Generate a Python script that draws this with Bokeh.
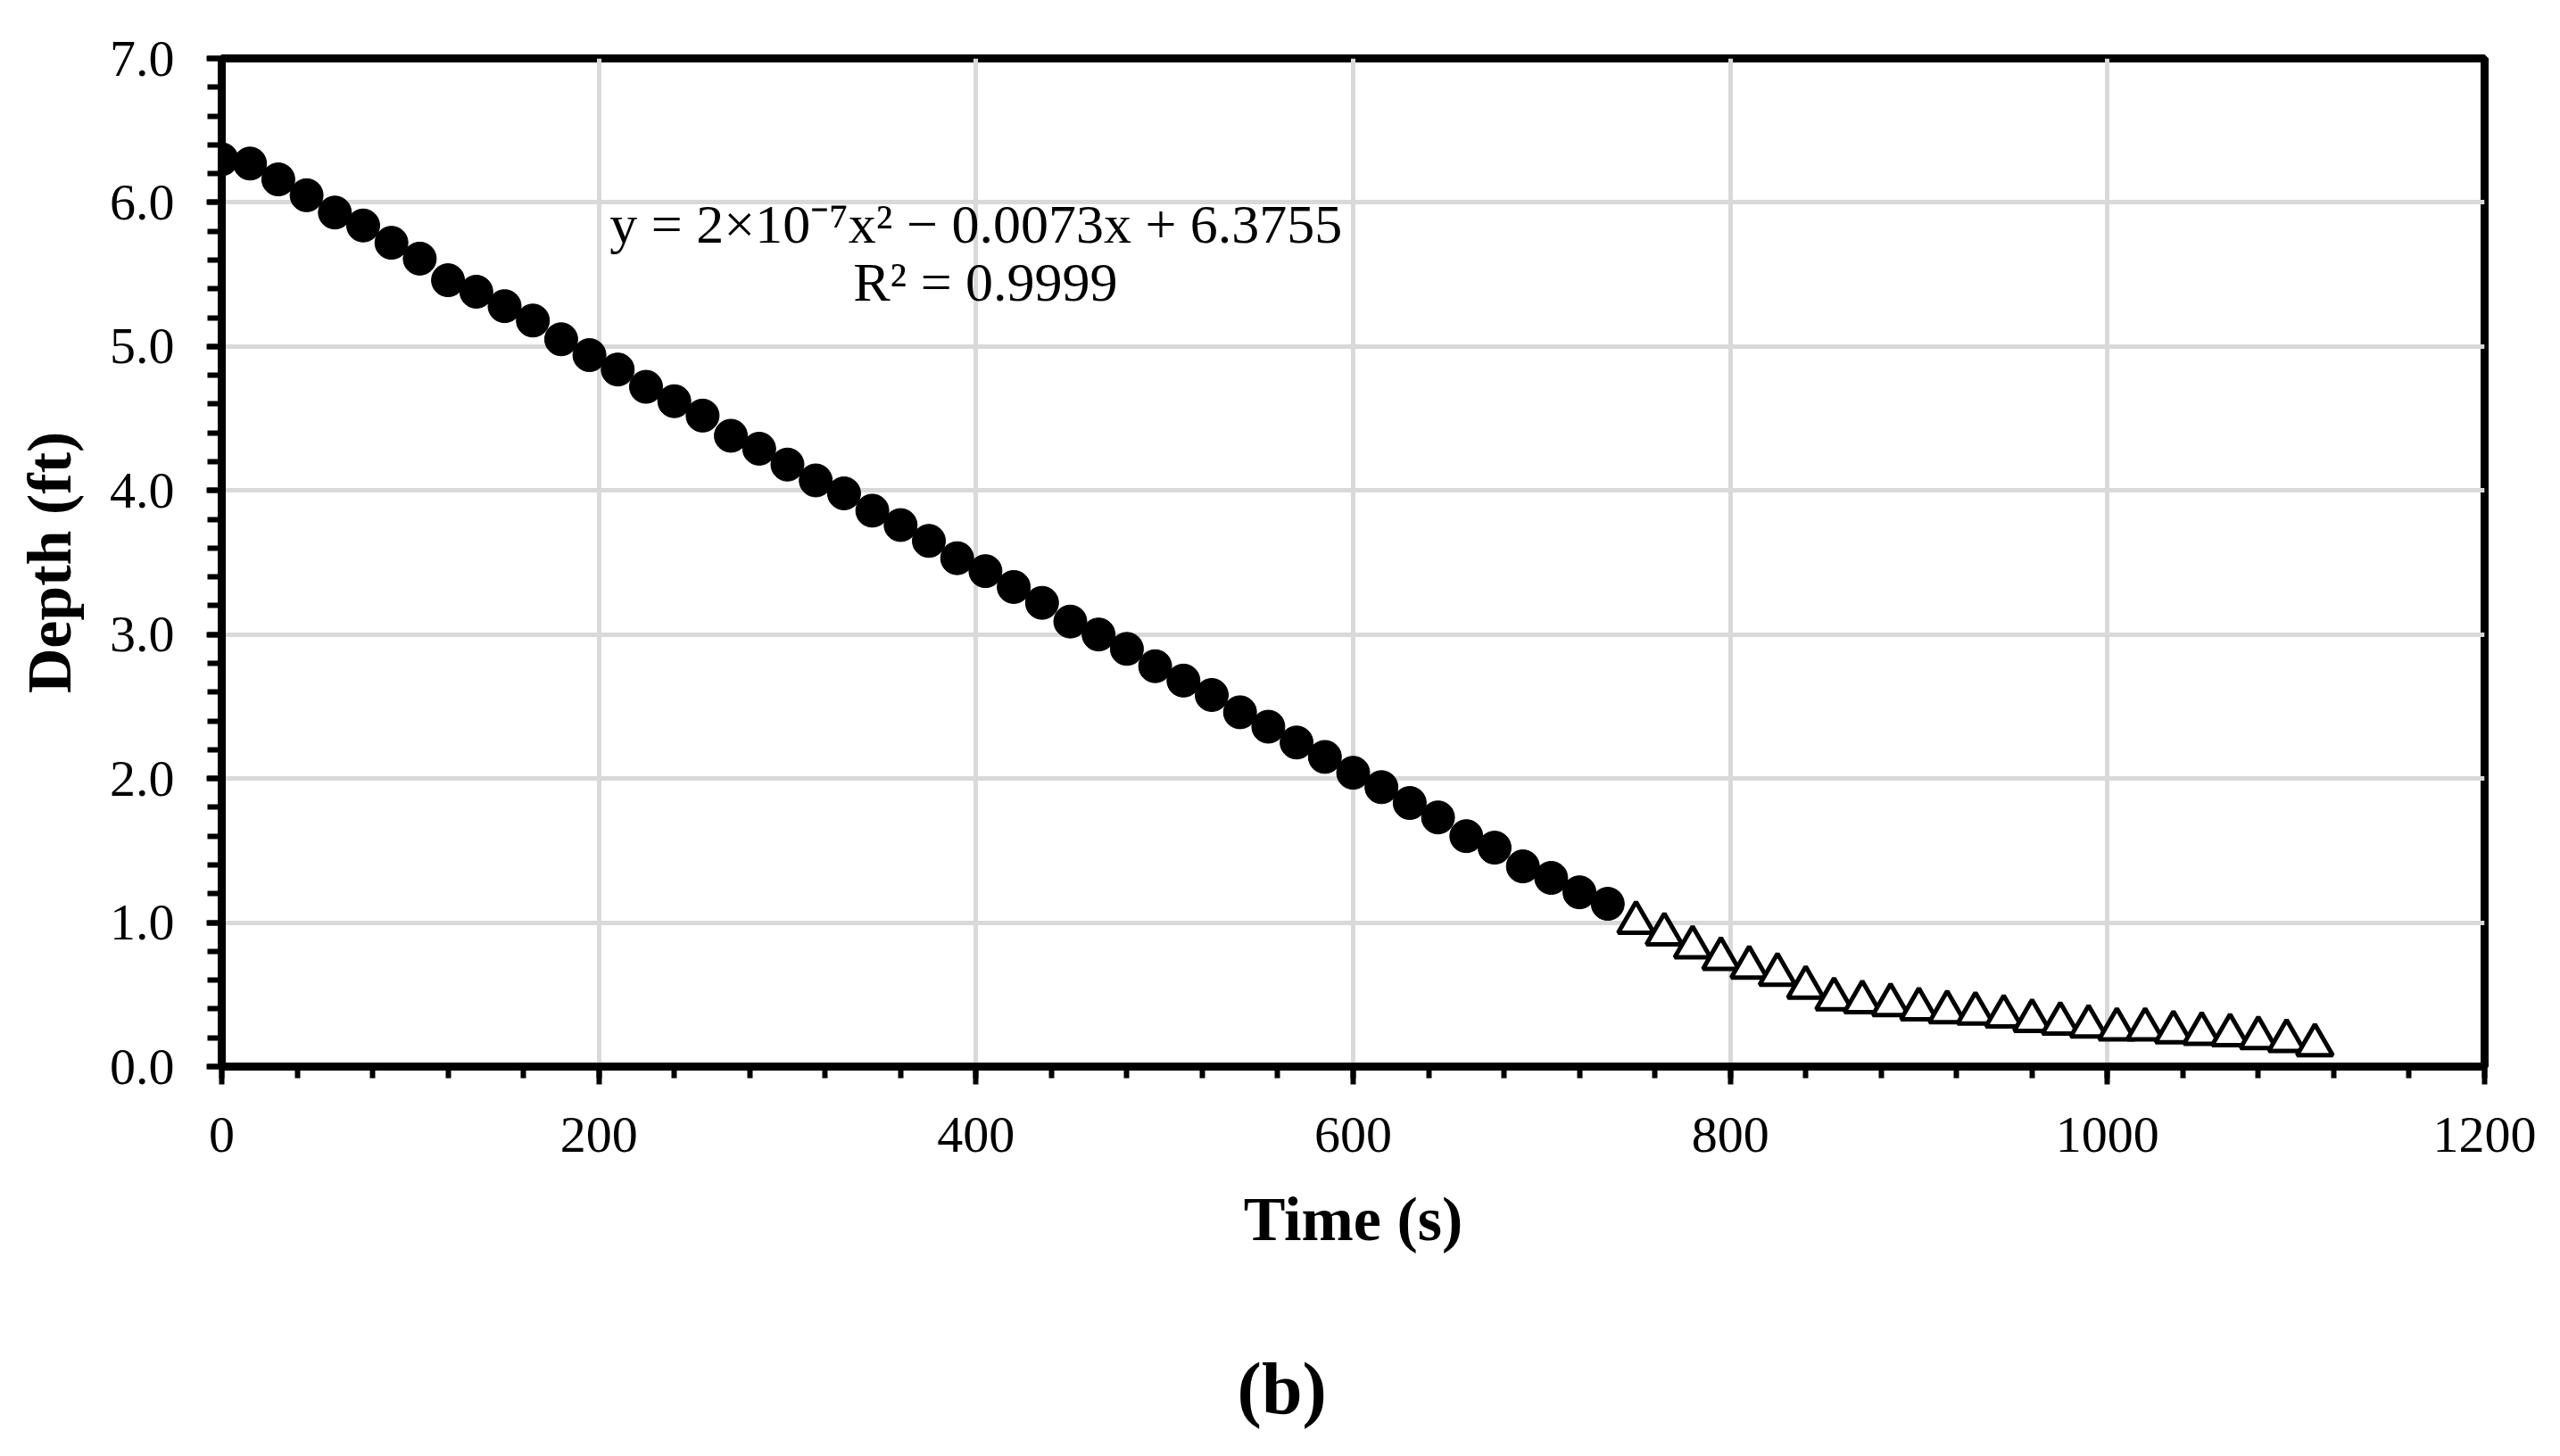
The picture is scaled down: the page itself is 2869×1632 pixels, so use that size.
from bokeh.plotting import figure
from bokeh.layouts import column
from bokeh.models import FixedTicker, Label, NumeralTickFormatter
from bokeh.embed import file_html
from bokeh.resources import INLINE

# measured depth, quadratic-fit segment (filled circles)
time_fit = [0, 15, 30, 45, 60, 75, 90, 105, 120, 135, 150, 165, 180, 195, 210,
            225, 240, 255, 270, 285, 300, 315, 330, 345, 360, 375, 390, 405, 420,
            435, 450, 465, 480, 495, 510, 525, 540, 555, 570, 585, 600, 615, 630,
            645, 660, 675, 690, 705, 720, 735]
depth_fit = [6.30, 6.27, 6.16, 6.05, 5.93, 5.84, 5.72, 5.61, 5.46, 5.38, 5.28, 5.18,
             5.05, 4.94, 4.84, 4.72, 4.62, 4.52, 4.38, 4.29, 4.18, 4.07, 3.98, 3.86,
             3.76, 3.65, 3.53, 3.44, 3.33, 3.22, 3.09, 3.00, 2.90, 2.78, 2.68, 2.58,
             2.46, 2.36, 2.25, 2.15, 2.04, 1.94, 1.83, 1.73, 1.60, 1.52, 1.39, 1.31,
             1.21, 1.13]

# tail of the drawdown (open triangles)
time_tail = [750, 765, 780, 795, 810, 825, 840, 855, 870, 885, 900, 915, 930, 945,
             960, 975, 990, 1005, 1020, 1035, 1050, 1065, 1080, 1095, 1110]
depth_tail = [1.00, 0.92, 0.83, 0.75, 0.69, 0.64, 0.55, 0.47, 0.45, 0.43, 0.40, 0.38,
              0.37, 0.35, 0.32, 0.30, 0.28, 0.26, 0.26, 0.24, 0.23, 0.22, 0.20, 0.18,
              0.15]

x_ticks = [0, 200, 400, 600, 800, 1000, 1200]
x_minor = [40 * i for i in range(31)]
y_ticks = [0, 1, 2, 3, 4, 5, 6, 7]
y_minor = [round(0.2 * i, 1) for i in range(36)]

eq_text = "y = 2\u00d710\u207b\u2077x\u00b2 \u2212 0.0073x + 6.3755"
r2_text = "R\u00b2 = 0.9999"
caption = "(b)"

FONT = "Liberation Serif"

fig = figure(width=2860, height=1450, x_range=(0, 1200), y_range=(0, 7),
             output_backend="svg", toolbar_location=None,
             min_border_left=248, min_border_right=76,
             min_border_top=65, min_border_bottom=255)

fig.outline_line_color = "black"
fig.outline_line_width = 9
fig.background_fill_color = "white"
fig.border_fill_color = "white"

fig.xaxis.ticker = FixedTicker(ticks=x_ticks, minor_ticks=x_minor)
fig.yaxis.ticker = FixedTicker(ticks=y_ticks, minor_ticks=y_minor)
fig.yaxis.formatter = NumeralTickFormatter(format="0.0")

fig.xgrid.grid_line_color = "#d9d9d9"
fig.ygrid.grid_line_color = "#d9d9d9"
fig.xgrid.grid_line_width = 5
fig.ygrid.grid_line_width = 5

for ax in (fig.xaxis, fig.yaxis):
    ax.axis_line_width = 9
    ax.axis_line_color = "black"
    ax.major_tick_in = 0
    ax.minor_tick_in = 0
    ax.major_tick_line_width = 6
    ax.minor_tick_line_width = 6
    ax.major_tick_line_color = "black"
    ax.minor_tick_line_color = "black"
    ax.major_label_text_font = FONT
    ax.major_label_text_font_size = "58px"
    ax.major_label_text_color = "black"
    ax.axis_label_text_font = FONT
    ax.axis_label_text_font_size = "70px"
    ax.axis_label_text_font_style = "bold"
    ax.axis_label_text_color = "black"

fig.xaxis.major_tick_out = 20
fig.xaxis.minor_tick_out = 13
fig.yaxis.major_tick_out = 17
fig.yaxis.minor_tick_out = 16
fig.xaxis.major_label_standoff = 37
fig.yaxis.major_label_standoff = 36
fig.xaxis.axis_label = "Time (s)"
fig.yaxis.axis_label = "Depth (ft)"
fig.xaxis.axis_label_standoff = 34
fig.yaxis.axis_label_standoff = 26

fig.scatter(time_fit, depth_fit, marker="circle", size=37,
            fill_color="black", line_color="black")
fig.scatter(time_tail, depth_tail, marker="triangle", size=40,
            fill_color="white", line_color="black", line_width=5)

fig.add_layout(Label(x=400, y=5.85, text=eq_text, text_align="center",
                     text_baseline="alphabetic", text_font=FONT,
                     text_font_size="62px", text_color="black"))
fig.add_layout(Label(x=405, y=5.45, text=r2_text, text_align="center",
                     text_baseline="alphabetic", text_font=FONT,
                     text_font_size="62px", text_color="black"))

# strip under the chart holding the panel caption
cap = figure(width=2860, height=174, x_range=(0, 2860), y_range=(0, 174),
             output_backend="svg", toolbar_location=None,
             x_axis_location=None, y_axis_location=None, min_border=0)
cap.grid.visible = False
cap.outline_line_color = None
cap.background_fill_color = "white"
cap.border_fill_color = "white"
cap.add_layout(Label(x=1340, y=68, text=caption, text_align="center",
                     text_baseline="middle", text_font=FONT,
                     text_font_size="82px", text_font_style="bold",
                     text_color="black"))

p = column(fig, cap, spacing=0)

open("out.html", "w").write(file_html(p, INLINE))
